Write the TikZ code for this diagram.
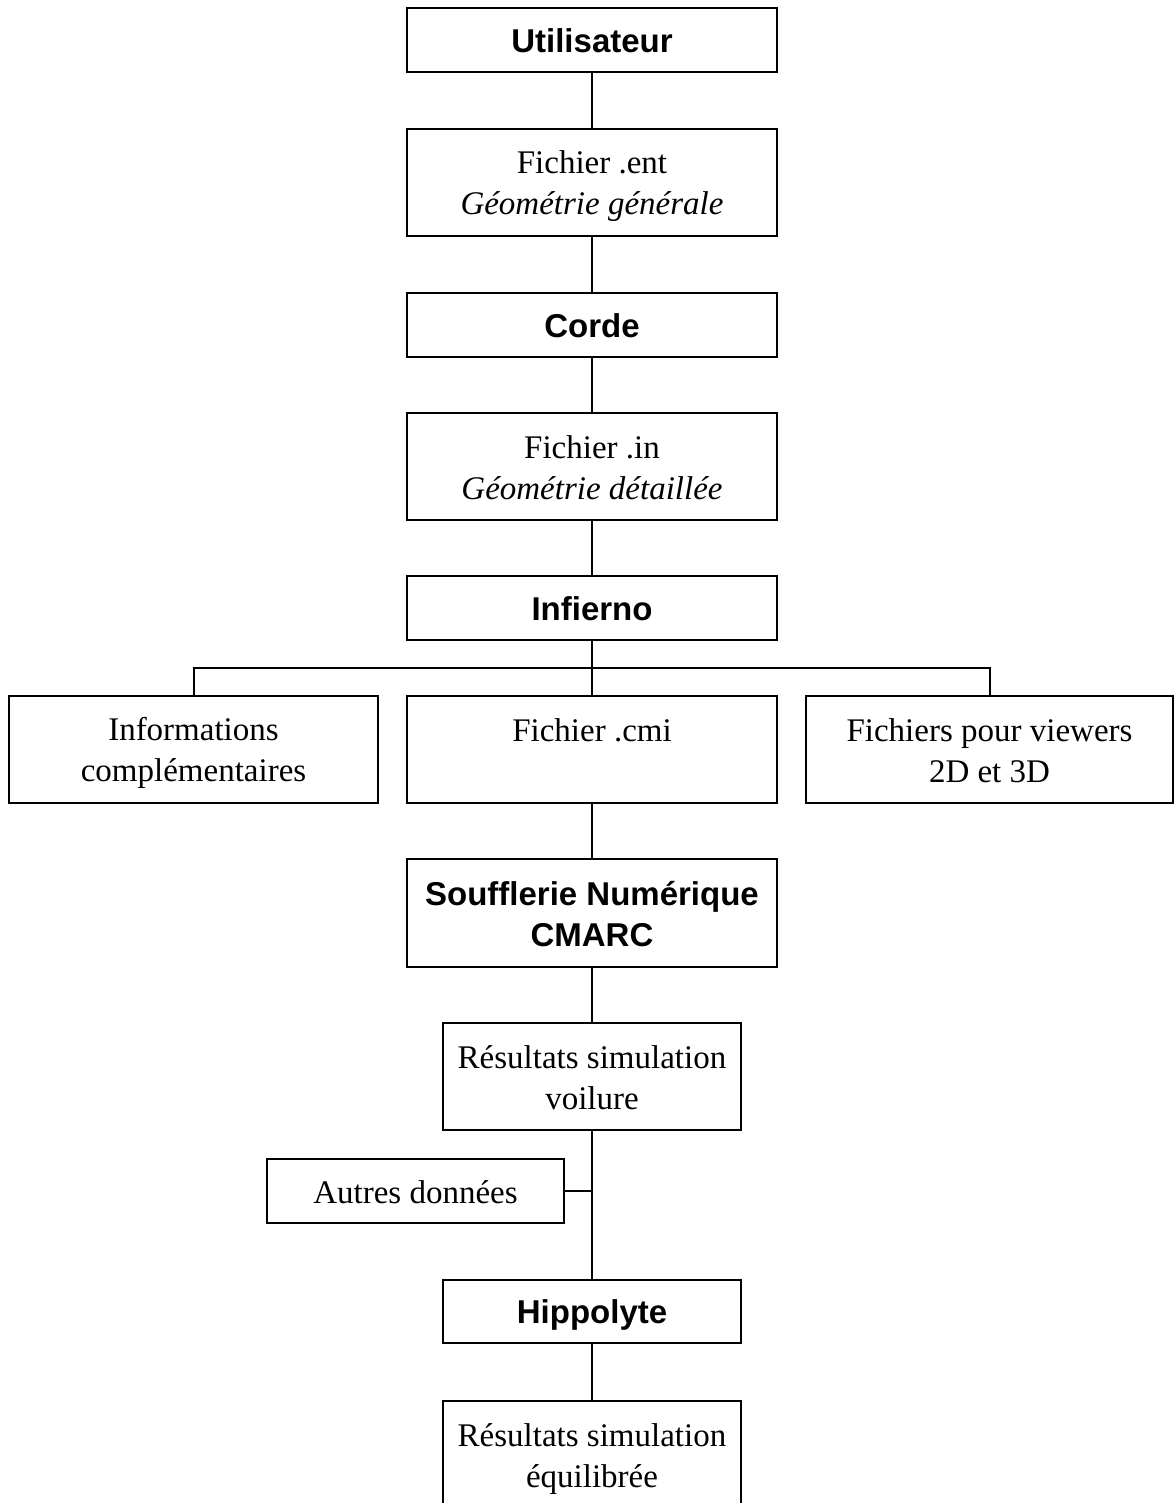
\documentclass[tikz,border=0pt]{standalone}
\usepackage{fontspec}
\setmainfont{Liberation Serif}
\setsansfont{Liberation Sans}
\newcommand\ls{\rule[-5pt]{0pt}{35pt}}
\tikzset{
  box/.style={draw, line width=2pt, inner sep=0pt, align=center, minimum width=370pt, minimum height=107pt, font=\fontsize{33}{41}\selectfont},
  titlebox/.style={box, minimum height=64pt, font=\fontsize{33}{41}\selectfont\sffamily\bfseries},
  smallbox/.style={box, minimum width=298pt},
  link/.style={line width=2pt}
}
\begin{document}
\begin{tikzpicture}[x=1pt,y=1pt,yscale=-1,xscale=1]
\useasboundingbox (0,0) rectangle (1174,1503);
\node[titlebox] (util) at (592,40.5) {Utilisateur\ls};
\node[box] (ent) at (592,182.5) {Fichier .ent\ls\\\textit{Géométrie générale}\ls};
\node[titlebox] (corde) at (592,325) {Corde\ls};
\node[box] (fin) at (592,466) {Fichier .in\ls\\\textit{Géométrie détaillée}\ls};
\node[titlebox] (infierno) at (592,608) {Infierno\ls};
\coordinate (bar) at (592,668);
\node[box, minimum width=369pt] (info) at (193.5,749.5) {Informations\ls\\complémentaires\ls};
\node[box] (cmi) at (592,749.5) {Fichier .cmi\ls\\\ls};
\node[box, minimum width=367pt] (viewers) at (989.5,749.5) {Fichiers pour viewers\ls\\2D et 3D\ls};
\node[titlebox, minimum height=108pt] (souffl) at (592,913) {Soufflerie Numérique\ls\\CMARC\ls};
\node[smallbox] (voil) at (592,1076.5) {Résultats simulation\ls\\voilure\ls};
\node[smallbox, minimum width=297pt, minimum height=64pt] (autres) at (415.5,1191) {Autres données\ls};
\node[titlebox, minimum width=298pt, minimum height=63pt] (hipp) at (592,1311.5) {Hippolyte\ls};
\node[smallbox, minimum height=108pt] (equil) at (592,1455) {Résultats simulation\ls\\équilibrée\ls};
% liaisons
\draw[link] (util) -- (ent);
\draw[link] (ent) -- (corde);
\draw[link] (corde) -- (fin);
\draw[link] (fin) -- (infierno);
\draw[link] (infierno) -- (cmi);
\draw[link] (info.north) |- (bar) -| (viewers.north);
\draw[link] (cmi) -- (souffl);
\draw[link] (souffl) -- (voil);
\draw[link] (voil) -- (hipp);
\draw[link] (autres.east) -- (autres.east -| voil.south);
\draw[link] (hipp) -- (equil);
\end{tikzpicture}
\end{document}
